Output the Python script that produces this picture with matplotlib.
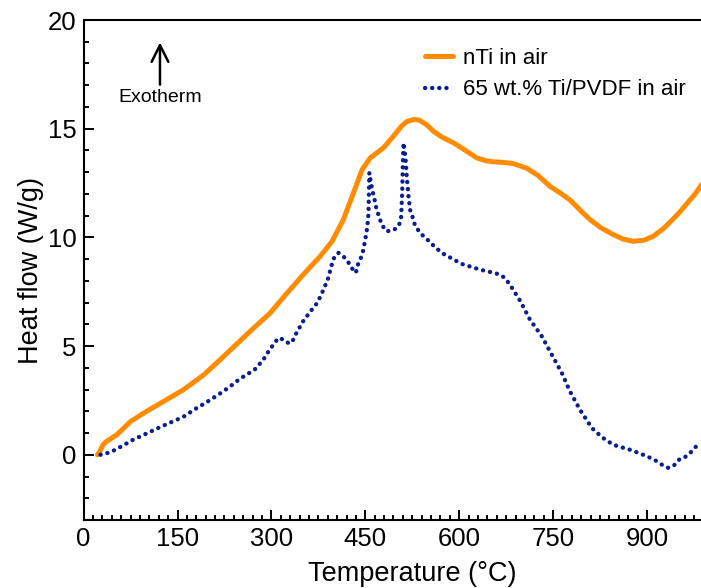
import matplotlib
matplotlib.use("Agg")
import matplotlib.pyplot as plt
from matplotlib.ticker import MultipleLocator

plt.rcParams['font.family'] = ['Liberation Sans', 'DejaVu Sans']

# nTi in air
temp_nti = [22, 25, 31, 37, 53, 75, 96, 128, 160, 192, 224, 266, 298, 325, 351,
            378, 397, 415, 431, 445, 458, 479, 495, 508, 516, 527, 536, 548, 559,
            572, 591, 610, 628, 642, 654, 670, 686, 708, 726, 745, 761, 777, 795,
            809, 826, 846, 862, 878, 895, 910, 926, 942, 955, 965, 977, 988]
heat_nti = [0.0, 0.1, 0.46, 0.62, 0.92, 1.53, 1.92, 2.46, 3.0, 3.68, 4.53, 5.68,
            6.52, 7.44, 8.29, 9.13, 9.82, 10.82, 12.04, 13.12, 13.66, 14.12, 14.66,
            15.12, 15.32, 15.42, 15.4, 15.18, 14.88, 14.62, 14.35, 14.0, 13.66,
            13.53, 13.48, 13.45, 13.4, 13.18, 12.85, 12.35, 12.05, 11.72, 11.2,
            10.82, 10.45, 10.13, 9.92, 9.82, 9.87, 10.05, 10.4, 10.85, 11.25,
            11.6, 12.0, 12.45]

# 65 wt.% Ti/PVDF in air
temp_ti = [27, 31, 42, 60, 79, 100, 119, 140, 159, 178, 196, 215, 233, 249, 260,
           273, 287, 297, 311, 321, 327, 333, 337, 343, 348, 354, 361, 367, 372,
           377, 382, 390, 399, 407, 415, 423, 428, 435, 437, 444, 447, 451, 453,
           455, 455.5, 456, 456.5, 459, 461, 466, 468, 472, 476, 484, 495, 503,
           507, 508, 509, 509.5, 510, 511, 514, 516, 519, 522, 526, 529, 535, 543,
           551, 559, 566, 575, 604, 633, 655, 665, 673, 681, 686, 697, 713, 732,
           748, 764, 777, 793, 812, 828, 846, 873, 894, 910, 920, 926, 934, 940,
           946, 952, 961, 970, 977, 985]
heat_ti = [0.0, 0.05, 0.1, 0.38, 0.69, 0.97, 1.23, 1.5, 1.74, 2.1, 2.41, 2.76,
           3.12, 3.48, 3.68, 3.91, 4.37, 4.83, 5.37, 5.29, 5.14, 5.17, 5.45, 5.75,
           6.02, 6.29, 6.52, 6.78, 6.94, 7.21, 7.52, 8.06, 9.01, 9.29, 9.13, 8.85,
           8.6, 8.37, 8.67, 9.13, 9.44, 10.08, 10.44, 11.05, 11.66, 12.28, 12.97,
           12.51, 12.2, 11.59, 11.28, 10.97, 10.59, 10.28, 10.33, 10.51, 10.82,
           11.43, 12.12, 12.74, 13.43, 14.35, 13.73, 12.89, 11.89, 11.2, 10.9,
           10.59, 10.31, 10.05, 9.85, 9.62, 9.44, 9.24, 8.78, 8.52, 8.37, 8.29,
           8.13, 7.83, 7.6, 7.1, 6.22, 5.45, 4.6, 3.76, 2.91, 2.07, 1.23, 0.81,
           0.46, 0.23, 0.0, -0.2, -0.38, -0.5, -0.6, -0.55, -0.42, -0.2, -0.1,
           0.12, 0.34, 0.57]

xticks = [0, 150, 300, 450, 600, 750, 900]
yticks = [0, 5, 10, 15, 20]

fig = plt.figure(figsize=(7.01, 5.88), dpi=100)
ax = fig.add_axes([83.6 / 701, 68 / 588, 657.3 / 701, 500 / 588])

ax.plot(temp_nti, heat_nti, color='#ff8c00', lw=3.6, solid_capstyle='round',
        solid_joinstyle='round', label='nTi in air')
ax.plot(temp_ti, heat_ti, color='#0b1f8c', lw=3.1, linestyle=(0, (0.05, 1.6)),
        dash_capstyle='round', label='65 wt.% Ti/PVDF in air')

ax.set_xlim(0, 1050)
ax.set_ylim(-3, 20)
ax.set_xticks(xticks)
ax.set_yticks(yticks)
ax.xaxis.set_minor_locator(MultipleLocator(15))
ax.yaxis.set_minor_locator(MultipleLocator(1))

for side in ['left', 'bottom', 'top']:
    ax.spines[side].set_linewidth(1.5)
ax.spines['right'].set_visible(False)
ax.tick_params(which='both', direction='in', width=1.4, labelsize=18.5)
ax.tick_params(which='major', length=7.5, pad=5)
ax.tick_params(which='minor', length=3.5)

ax.set_xlabel('Temperature (°C)', fontsize=19.5, labelpad=7)
ax.set_ylabel('Heat flow (W/g)', fontsize=19.5)
ax.yaxis.set_label_coords(-0.060, 0.5)

ax.annotate('', xy=(122, 19.1), xytext=(122, 16.9),
            arrowprops=dict(arrowstyle='->', lw=1.8, color='black',
                            mutation_scale=30))
ax.text(122, 16.45, 'Exotherm', fontsize=14, ha='center', va='center')

ax.legend(loc='upper left', bbox_to_anchor=(425 / 701, 1 - 48 / 588),
          bbox_transform=fig.transFigure, frameon=False, fontsize=16,
          handlelength=1.25, handletextpad=0.45, borderpad=0,
          borderaxespad=0, labelspacing=0.47)

fig.savefig('out.png', dpi=100)
